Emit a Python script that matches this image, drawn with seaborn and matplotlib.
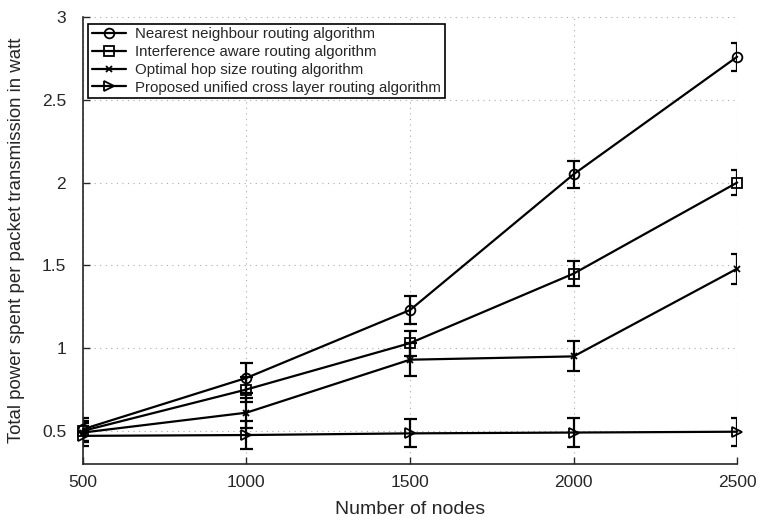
import numpy as np
import pandas as pd
import matplotlib
matplotlib.use("Agg")
import matplotlib.pyplot as plt
import seaborn as sns

# --- Data ---
nodes = [500, 1000, 1500, 2000, 2500]
nearest = [0.51, 0.82, 1.23, 2.05, 2.76]
nearest_err = [0.07, 0.09, 0.085, 0.08, 0.085]
interference = [0.50, 0.75, 1.03, 1.45, 2.00]
interference_err = [0.06, 0.075, 0.075, 0.075, 0.075]
optimal = [0.49, 0.61, 0.93, 0.95, 1.48]
optimal_err = [0.06, 0.09, 0.10, 0.09, 0.09]
proposed = [0.47, 0.475, 0.485, 0.49, 0.495]
proposed_err = [0.06, 0.085, 0.085, 0.085, 0.085]

labels = ['Nearest neighbour routing algorithm',
          'Interference aware routing algorithm',
          'Optimal hop size routing algorithm',
          'Proposed unified cross layer routing algorithm']
markers = ['o', 's', 'x', '>']
marker_sizes = [7, 6.5, 5, 7]

series = [(nearest, nearest_err), (interference, interference_err),
          (optimal, optimal_err), (proposed, proposed_err)]

rows = []
for lab, (vals, errs) in zip(labels, series):
    for n, v, e in zip(nodes, vals, errs):
        rows.append({'Nodes': n, 'Power': v, 'Err': e, 'Algorithm': lab})
df = pd.DataFrame(rows)

# --- Styling ---
sns.set_style("ticks")
plt.rcParams['font.family'] = ['Liberation Sans', 'DejaVu Sans']

fig = plt.figure(figsize=(7.6, 5.23), dpi=100)
ax = fig.add_axes([0.109, 0.1128, 0.861, 0.8547])
ax.set_xlim(500, 2500)
ax.set_ylim(0.3, 3)

# cap half-width: ~6.5 px converted to data units so caps clip at the axes edge
cap_px = 6.5
x0 = ax.transData.inverted().transform((0, 0))[0]
x1 = ax.transData.inverted().transform((cap_px, 0))[0]
cap_w = x1 - x0

for lab, mk, ms in zip(labels, markers, marker_sizes):
    sub = df[df['Algorithm'] == lab]
    ax.errorbar(sub['Nodes'], sub['Power'], yerr=sub['Err'], fmt='none',
                ecolor='black', elinewidth=1.6, capsize=0, zorder=2)
    for sign in (-1, 1):
        ax.hlines(sub['Power'] + sign * sub['Err'], sub['Nodes'] - cap_w,
                  sub['Nodes'] + cap_w, colors='black', linewidth=1.6, zorder=2)
    sns.lineplot(data=sub, x='Nodes', y='Power', color='black', label=lab,
                 marker=mk, linewidth=1.6, markersize=ms, markerfacecolor='none',
                 markeredgecolor='black', markeredgewidth=1.3, ax=ax, zorder=3)

# data lines/markers drawn unclipped like the original
for line in ax.lines:
    line.set_clip_on(False)

ax.set_xlim(500, 2500)
ax.set_ylim(0.3, 3)
ax.set_xticks(nodes)
ax.set_yticks([0.5, 1, 1.5, 2, 2.5, 3])
ax.set_yticklabels(['0.5', '1', '1.5', '2', '2.5', '3'])
ax.tick_params(direction='in', labelsize=12.5, length=5, width=1)
ax.tick_params(axis='y', pad=12)
ax.tick_params(axis='x', pad=8)
ax.grid(True, linestyle=(0, (1, 4)), color='#aaaaaa', linewidth=0.8)
for s in ['top', 'right']:
    ax.spines[s].set_visible(False)
for s in ['left', 'bottom']:
    ax.spines[s].set_linewidth(1.2)

ax.set_xlabel('Number of nodes', fontsize=14, labelpad=8)
ax.set_ylabel('Total power spent per packet transmission in watt', fontsize=13.4, labelpad=12)

leg = ax.legend(loc='upper left', fontsize=10.8, frameon=True, fancybox=False,
                edgecolor='black', handlelength=2.3, handletextpad=0.6,
                borderpad=0.25, borderaxespad=0, labelspacing=0.25,
                bbox_to_anchor=(0.008, 0.985), framealpha=1)
leg.get_frame().set_linewidth(1.2)

fig.savefig('out.png', dpi=100)
